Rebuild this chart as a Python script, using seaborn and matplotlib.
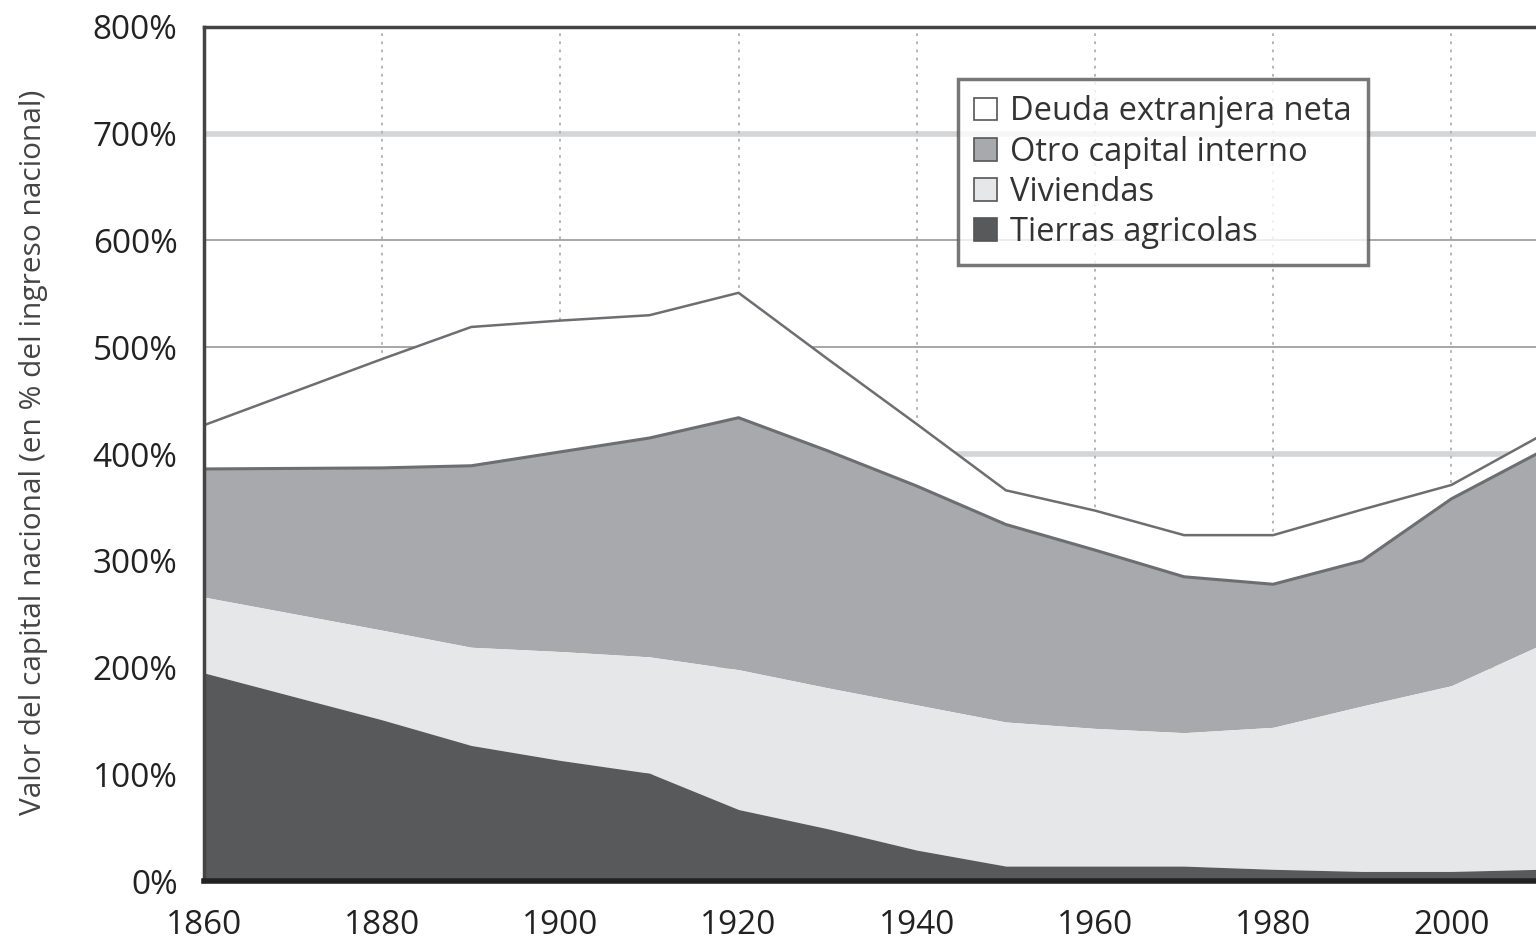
import numpy as np
import pandas as pd
import seaborn as sns
import matplotlib.pyplot as plt
from matplotlib.patches import Patch

# valores (% del ingreso nacional)
years = [1860, 1880, 1890, 1900, 1910, 1920, 1930, 1940, 1950, 1960, 1970, 1980, 1990, 2000, 2010]
tierras = [195, 151, 127, 113, 101, 67, 49, 29, 14, 14, 14, 11, 9, 9, 11]
viviendas_top = [266, 235, 219, 215, 210, 198, 181, 165, 149, 143, 139, 144, 164, 183, 221]
otro_top = [386, 387, 389, 402, 415, 434, 403, 370, 334, 310, 285, 278, 300, 358, 402]
total = [427, 489, 519, 525, 530, 551, 489, 428, 366, 347, 324, 324, 348, 371, 417]

labels = ["Deuda extranjera neta", "Otro capital interno", "Viviendas", "Tierras agricolas"]
colors = {"Deuda extranjera neta": "#ffffff", "Otro capital interno": "#a7a9ac",
          "Viviendas": "#e6e7e8", "Tierras agricolas": "#58595b"}
yticks = list(range(0, 900, 100))
xticks = list(range(1860, 2001, 20))

df = pd.DataFrame({"year": years, "tierras": tierras, "viviendas": viviendas_top,
                   "otro": otro_top, "total": total})

sns.set_style("white")
plt.rcParams['font.family'] = ['Open Sans', 'DejaVu Sans']

fig = plt.figure(figsize=(15.36, 9.43), dpi=100)
ax = fig.add_axes([0.1328, 0.0657, 0.8672, 0.9057])

# grid
for v in yticks[1:-1]:
    if v in (400, 700):
        ax.axhline(v, color="#d4d5d6", lw=4, zorder=0)
    else:
        ax.axhline(v, color="#a0a0a0", lw=1.3, zorder=0)
for x in xticks[1:]:
    ax.axvline(x, color="#b0b0b0", lw=1.3, ls=(0, (1.5, 3)), zorder=0)

# areas apiladas
ax.fill_between(df["year"], df["otro"], df["total"], color=colors["Deuda extranjera neta"], zorder=1)
ax.fill_between(df["year"], df["viviendas"], df["otro"], color=colors["Otro capital interno"], lw=0, zorder=1)
ax.fill_between(df["year"], df["tierras"], df["viviendas"], color=colors["Viviendas"], lw=0, zorder=1)
ax.fill_between(df["year"], 0, df["tierras"], color=colors["Tierras agricolas"], lw=0, zorder=1)

sns.lineplot(data=df, x="year", y="total", ax=ax, color="#6d6e71", lw=1.8, zorder=2)
sns.lineplot(data=df, x="year", y="otro", ax=ax, color="#6d6e71", lw=2.2, zorder=2)

ax.set_xlim(1860, 2009.5)
ax.set_ylim(0, 800)
ax.set_xticks(xticks)
ax.set_yticks(yticks)
ax.set_yticklabels([f"{v}%" for v in yticks])
ax.tick_params(axis="both", labelsize=24, colors="#222222", length=8, width=1.5, direction="out")
ax.tick_params(axis="x", pad=12)
ax.tick_params(axis="y", pad=11)
ax.set_xlabel("")
ax.set_ylabel("Valor del capital nacional (en % del ingreso nacional)", fontsize=21.5, color="#444444")
ax.yaxis.set_label_coords(-0.117, 0.502)

for s in ["left", "top"]:
    ax.spines[s].set_color("#444444")
    ax.spines[s].set_linewidth(2.5)
ax.spines["bottom"].set_color("#222222")
ax.spines["bottom"].set_linewidth(4)
ax.spines["right"].set_visible(False)

handles = [Patch(facecolor=colors[l], edgecolor="#555555", lw=1.2, label=l) for l in labels]
leg = ax.legend(handles=handles, loc="upper left", bbox_to_anchor=(0.566, 0.939), fontsize=23.5,
                frameon=True, fancybox=False, edgecolor="#555555", handlelength=0.7, handleheight=0.7,
                handletextpad=0.4, labelspacing=0.22, borderpad=0.5, borderaxespad=0)
leg.get_frame().set_linewidth(2.5)
for t in leg.get_texts():
    t.set_color("#333333")

fig.savefig("out.png", dpi=100)
